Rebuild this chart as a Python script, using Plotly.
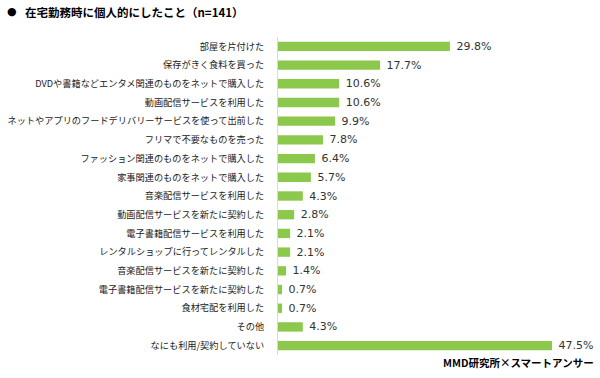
import plotly.graph_objects as go

categories = [
    "部屋を片付けた",
    "保存がきく食料を買った",
    "DVDや書籍などエンタメ関連のものをネットで購入した",
    "動画配信サービスを利用した",
    "ネットやアプリのフードデリバリーサービスを使って出前した",
    "フリマで不要なものを売った",
    "ファッション関連のものをネットで購入した",
    "家事関連のものをネットで購入した",
    "音楽配信サービスを利用した",
    "動画配信サービスを新たに契約した",
    "電子書籍配信サービスを利用した",
    "レンタルショップに行ってレンタルした",
    "音楽配信サービスを新たに契約した",
    "電子書籍配信サービスを新たに契約した",
    "食材宅配を利用した",
    "その他",
    "なにも利用/契約していない",
]
values = [29.8, 17.7, 10.6, 10.6, 9.9, 7.8, 6.4, 5.7, 4.3, 2.8, 2.1, 2.1, 1.4, 0.7, 0.7, 4.3, 47.5]

title_bullet = "●"
title_text = "在宅勤務時に個人的にしたこと（n=141）"
source_text = "MMD研究所×スマートアンサー"

FONT = "Noto Sans CJK JP"

fig = go.Figure(
    go.Bar(
        x=values,
        y=categories,
        orientation="h",
        marker=dict(color="#8CC84B", line=dict(width=0)),
        text=[f" {v:.1f}%" for v in values],
        textposition="outside",
        constraintext="none",
        textfont=dict(family="DejaVu Sans", size=11, color="#333333"),
        cliponaxis=False,
        width=0.5,
        hoverinfo="skip",
    )
)

fig.update_layout(
    width=600,
    height=378,
    margin=dict(l=278, r=22, t=37, b=23, autoexpand=False),
    paper_bgcolor="white",
    plot_bgcolor="white",
    showlegend=False,
    font=dict(family=FONT, size=11, color="#333333"),
    xaxis=dict(range=[0, 52], visible=False, fixedrange=True),
    yaxis=dict(
        autorange="reversed",
        automargin=False,
        fixedrange=True,
        showline=True,
        linecolor="#D9D9D9",
        linewidth=1,
        showgrid=False,
        ticks="",
        ticklabelstandoff=11,
        tickfont=dict(family=FONT, size=9.2, color="#222222"),
    ),
    annotations=[
        dict(
            text=title_bullet,
            xref="paper", yref="paper",
            x=-273 / 300, y=1 + 25 / 318,
            xanchor="left", yanchor="middle",
            showarrow=False,
            font=dict(family="DejaVu Sans", size=11, color="#000000"),
        ),
        dict(
            text=title_text,
            xref="paper", yref="paper",
            x=-255 / 300, y=1 + 25 / 318,
            xanchor="left", yanchor="middle",
            showarrow=False,
            font=dict(family=FONT, size=11.5, color="#000000", weight="bold"),
        ),
        dict(
            text=source_text,
            xref="paper", yref="paper",
            x=1 + 18 / 300, y=-7 / 318,
            xanchor="right", yanchor="middle",
            showarrow=False,
            font=dict(family=FONT, size=10.5, color="#000000", weight="bold"),
        ),
    ],
)

fig.write_html(
    "out.html",
    config={"displayModeBar": False},
    post_script="document.body.style.margin='0';document.body.style.padding='0';",
)
